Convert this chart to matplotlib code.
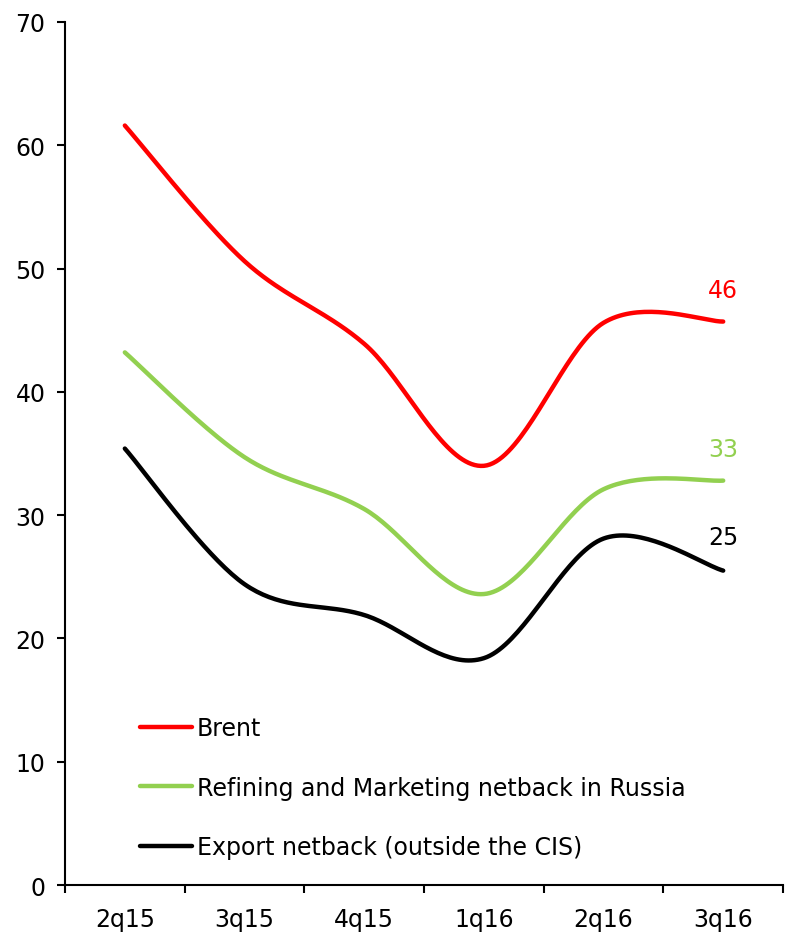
import numpy as np
import matplotlib
matplotlib.use("Agg")
import matplotlib.pyplot as plt

# quarterly values, USD/bbl
quarters = ["2q15", "3q15", "4q15", "1q16", "2q16", "3q16"]
brent = [61.6, 50.6, 43.9, 34.0, 45.6, 45.7]
refining = [43.2, 34.7, 30.5, 23.6, 32.1, 32.8]
export = [35.4, 24.4, 21.9, 18.4, 28.1, 25.5]

series = [
    ("Brent", brent, "#ff0000"),
    ("Refining and Marketing netback in Russia", refining, "#92d050"),
    ("Export netback (outside the CIS)", export, "#000000"),
]
end_labels = ["46", "33", "25"]
end_label_y = [48.3, 35.4, 28.2]


def smooth(xs, ys, steps=40):
    """Excel-style smoothed line (Catmull-Rom through the points)."""
    p = np.column_stack([xs, ys]).astype(float)
    n = len(p)
    out = []
    for i in range(n - 1):
        p0 = p[max(i - 1, 0)]
        p1 = p[i]
        p2 = p[i + 1]
        p3 = p[min(i + 2, n - 1)]
        c1 = p1 + (p2 - p0) / 6
        c2 = p2 - (p3 - p1) / 6
        t = np.linspace(0, 1, steps)[:, None]
        seg = ((1 - t) ** 3) * p1 + 3 * ((1 - t) ** 2) * t * c1 \
            + 3 * (1 - t) * t ** 2 * c2 + t ** 3 * p2
        out.append(seg if i == 0 else seg[1:])
    out = np.vstack(out)
    return out[:, 0], out[:, 1]


plt.rcParams['font.family'] = ['DejaVu Sans']
FS = 17
fig = plt.figure(figsize=(7.85, 9.37), dpi=100)
ax = fig.add_axes([0.0828, 0.0544, 0.9147, 0.9211])

x = np.arange(len(quarters))
for (name, vals, color), lab, ly in zip(series, end_labels, end_label_y):
    sx, sy = smooth(x, vals)
    ax.plot(sx, sy, color=color, linewidth=3.2, label=name,
            solid_capstyle='round')
    ax.text(x[-1], ly, lab, color=color, fontsize=FS, ha='center', va='center')

ax.set_xlim(-0.5, 5.5)
ax.set_ylim(0, 70)
ax.set_yticks(range(0, 71, 10))
ax.set_xticks(np.arange(-0.5, 6, 1))
ax.set_xticklabels([])
ax.set_xticks(x, minor=True)
ax.set_xticklabels(quarters, minor=True)
ax.tick_params(axis='x', which='minor', length=0, pad=16, labelsize=FS)
ax.tick_params(axis='x', which='major', length=6, width=1.5, direction='out')
ax.tick_params(axis='y', length=6, width=1.5, direction='out', pad=8, labelsize=FS)

for side in ['top', 'right']:
    ax.spines[side].set_visible(False)
for side in ['left', 'bottom']:
    ax.spines[side].set_linewidth(1.5)

leg = ax.legend(loc='lower left', bbox_to_anchor=(0.1045, 0.03), frameon=False,
                fontsize=FS, handlelength=2.2, handletextpad=0.2,
                labelspacing=1.5, borderpad=0, borderaxespad=0)

fig.savefig("out.png", dpi=100)
